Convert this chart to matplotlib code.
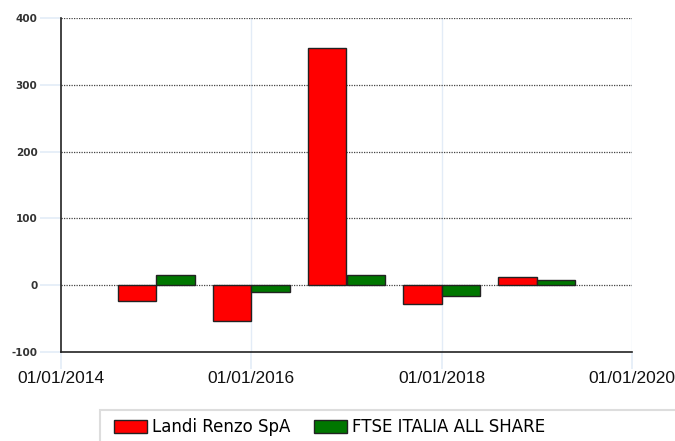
import matplotlib.pyplot as plt
from matplotlib.patches import Rectangle

# yearly performance (%), bars centred on 01/01 of each year
years = [2015, 2016, 2017, 2018, 2019]
landi = [-24, -54, 355, -28, 12]
ftse = [16, -10, 16, -16, 8]
series_names = ['Landi Renzo SpA', 'FTSE ITALIA ALL SHARE']
x_ticks = [2014, 2016, 2018, 2020]
x_labels = ['01/01/2014', '01/01/2016', '01/01/2018', '01/01/2020']
y_ticks = [-100, 0, 100, 200, 300, 400]

fig = plt.figure(figsize=(6.75, 4.41), dpi=100)
ax = fig.add_axes([61/675, 1-352/441, (632-61)/675, (352-18)/441])

w = 0.405
ax.bar([y - w/2 for y in years], landi, width=w, color='#ff0000',
       edgecolor='#222222', linewidth=1, zorder=3, label=series_names[0])
ax.bar([y + w/2 for y in years], ftse, width=w, color='#007700',
       edgecolor='#222222', linewidth=1, zorder=3, label=series_names[1])

ax.set_xlim(2014, 2020)
ax.set_ylim(-100, 400)
ax.set_xticks(x_ticks)
ax.set_xticklabels(x_labels, fontsize=12.5, family='Liberation Sans', color='#111111')
ax.set_yticks(y_ticks)
ax.set_yticklabels([str(v) for v in y_ticks], fontsize=7.5, fontweight='bold', color='#333333')

# dotted horizontal grid, faint blue vertical grid
for v in y_ticks[1:]:
    ax.axhline(v, color='#444444', linestyle=(0, (1, 1)), linewidth=0.9, zorder=1)
for v in x_ticks[1:]:
    ax.axvline(v, color='#e3ecf7', linewidth=1, zorder=0)

ax.tick_params(axis='y', length=15, width=1.2, color='#e3ecf7', pad=2)
ax.tick_params(axis='x', length=12, width=1.2, color='#e3ecf7', pad=2)

for s in ['top', 'right']:
    ax.spines[s].set_visible(False)
for s in ['left', 'bottom']:
    ax.spines[s].set_color('#222222')
    ax.spines[s].set_linewidth(1.2)

# legend box at the bottom
fig.patches.append(Rectangle((100/675, -0.05), 0.9, 31/441 + 0.05,
                             transform=fig.transFigure, fill=False,
                             edgecolor='#dddddd', linewidth=1.5))
leg = fig.legend(loc='lower left', bbox_to_anchor=(99/675, -10/441), ncol=2,
                 frameon=False, fontsize=12, handlelength=2.0, handleheight=0.85,
                 handletextpad=0.3, columnspacing=1.4)

fig.savefig('out.png', dpi=100)
